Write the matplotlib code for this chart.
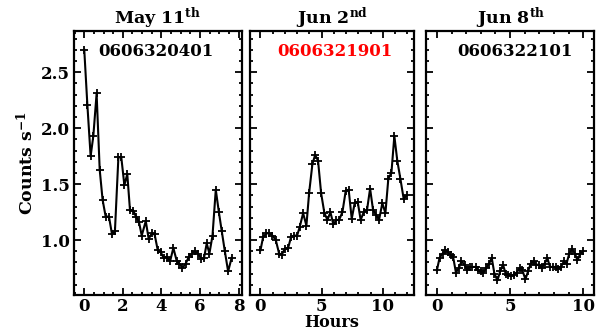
import numpy as np
import matplotlib
matplotlib.use('Agg')
import matplotlib.pyplot as plt
from matplotlib.ticker import MultipleLocator

plt.rcParams['font.family'] = 'DejaVu Serif'
plt.rcParams['font.weight'] = 'bold'
plt.rcParams['axes.labelweight'] = 'bold'
plt.rcParams['mathtext.fontset'] = 'dejavuserif'
plt.rcParams['mathtext.default'] = 'bf'

# light curves (hours, counts/s)
t_may11 = [0.00, 0.16, 0.33, 0.47, 0.64, 0.80, 0.95, 1.11, 1.28, 1.44, 1.59, 1.77, 1.92,
           2.08, 2.23, 2.37, 2.55, 2.68, 2.84, 2.98, 3.19, 3.34, 3.50, 3.65, 3.81, 3.97,
           4.12, 4.28, 4.45, 4.62, 4.80, 4.93, 5.09, 5.26, 5.42, 5.58, 5.73, 5.90, 6.06,
           6.21, 6.35, 6.49, 6.65, 6.82, 6.98, 7.13, 7.29, 7.46, 7.64]
r_may11 = [2.70, 2.21, 1.75, 1.93, 2.31, 1.63, 1.36, 1.21, 1.21, 1.05, 1.08, 1.74, 1.74,
           1.49, 1.59, 1.27, 1.26, 1.21, 1.16, 1.04, 1.17, 1.01, 1.06, 1.05, 0.91, 0.89,
           0.84, 0.85, 0.81, 0.93, 0.81, 0.79, 0.75, 0.79, 0.85, 0.88, 0.90, 0.88, 0.83,
           0.84, 0.97, 0.88, 1.04, 1.45, 1.25, 1.08, 0.90, 0.72, 0.84]

t_jun02 = [0.00, 0.22, 0.49, 0.73, 0.98, 1.25, 1.52, 1.74, 1.98, 2.26, 2.50, 2.77, 2.99,
           3.21, 3.48, 3.75, 3.97, 4.24, 4.46, 4.70, 4.95, 5.22, 5.47, 5.71, 5.95, 6.20,
           6.42, 6.69, 6.96, 7.20, 7.45, 7.69, 7.94, 8.18, 8.43, 8.70, 8.95, 9.19, 9.46,
           9.68, 9.95, 10.20, 10.44, 10.69, 10.93, 11.17, 11.42, 11.69, 11.96]
r_jun02 = [0.91, 1.03, 1.06, 1.06, 1.04, 1.00, 0.88, 0.87, 0.92, 0.93, 1.03, 1.04, 1.04,
           1.12, 1.24, 1.13, 1.42, 1.68, 1.76, 1.71, 1.42, 1.24, 1.18, 1.25, 1.14, 1.18,
           1.18, 1.25, 1.44, 1.45, 1.19, 1.33, 1.34, 1.18, 1.25, 1.27, 1.46, 1.27, 1.22,
           1.18, 1.33, 1.24, 1.55, 1.60, 1.93, 1.71, 1.55, 1.37, 1.40]

t_jun08 = [0.00, 0.18, 0.39, 0.57, 0.75, 0.93, 1.11, 1.30, 1.50, 1.68, 1.89, 2.07, 2.25,
           2.43, 2.64, 2.82, 3.00, 3.18, 3.36, 3.57, 3.75, 3.93, 4.14, 4.32, 4.52, 4.70,
           4.89, 5.07, 5.27, 5.45, 5.66, 5.84, 6.05, 6.23, 6.41, 6.61, 6.80, 6.98, 7.18,
           7.36, 7.55, 7.73, 7.91, 8.11, 8.30, 8.48, 8.68, 8.86, 9.05, 9.23, 9.43, 9.61,
           9.80, 10.00]
r_jun08 = [0.73, 0.84, 0.88, 0.91, 0.89, 0.87, 0.85, 0.71, 0.75, 0.81, 0.78, 0.73, 0.76,
           0.76, 0.76, 0.73, 0.72, 0.71, 0.75, 0.79, 0.84, 0.70, 0.64, 0.72, 0.78, 0.70,
           0.69, 0.68, 0.69, 0.71, 0.75, 0.73, 0.65, 0.72, 0.79, 0.81, 0.78, 0.78, 0.75,
           0.79, 0.84, 0.76, 0.76, 0.76, 0.74, 0.76, 0.81, 0.79, 0.88, 0.92, 0.88, 0.82,
           0.88, 0.90]

titles = ['May 11$^{\\mathbf{th}}$', 'Jun 2$^{\\mathbf{nd}}$', 'Jun 8$^{\\mathbf{th}}$']
obsids = ['0606320401', '0606321901', '0606322101']
obs_colors = ['black', 'red', 'black']

fig = plt.figure(figsize=(6.02, 3.31), dpi=100)
boxes = [[0.123, 0.109, 0.279, 0.798],
         [0.415, 0.109, 0.272, 0.798],
         [0.708, 0.109, 0.279, 0.798]]
xlims = [(-0.53, 8.18), (-0.87, 12.5), (-0.73, 10.75)]
xmajor = [2, 5, 5]
xminor = [0.5, 1, 1]
text_x = [0.49, 0.52, 0.53]
data = [(t_may11, r_may11), (t_jun02, r_jun02), (t_jun08, r_jun08)]

for i in range(3):
    ax = fig.add_axes(boxes[i])
    t, r = data[i]
    ax.plot(t, r, '-', color='black', lw=1.5, marker='+', ms=6, mew=1.3)
    ax.set_xlim(*xlims[i])
    ax.set_ylim(0.51, 2.87)
    ax.xaxis.set_major_locator(MultipleLocator(xmajor[i]))
    ax.xaxis.set_minor_locator(MultipleLocator(xminor[i]))
    ax.yaxis.set_major_locator(MultipleLocator(0.5))
    ax.yaxis.set_minor_locator(MultipleLocator(0.1))
    ax.tick_params(which='both', direction='in', top=True, right=True, labelsize=12, width=1.3)
    ax.tick_params(axis='y', which='major', length=5, pad=3)
    ax.tick_params(axis='x', which='major', length=5, pad=2)
    ax.tick_params(which='minor', length=2.5)
    for s in ax.spines.values():
        s.set_linewidth(1.6)
    if i > 0:
        ax.set_yticklabels([])
    else:
        ax.set_ylabel('Counts s$^{\\mathbf{-1}}$', fontsize=12.5, labelpad=3)
    if i == 1:
        ax.set_xlabel('Hours', fontsize=11.5, labelpad=-0.5)
    ax.set_title(titles[i], fontsize=12.5, pad=3, fontweight='bold')
    ax.text(text_x[i], 0.92, obsids[i], transform=ax.transAxes, ha='center', va='center',
            fontsize=12, color=obs_colors[i])

fig.savefig('out.png', dpi=100)
